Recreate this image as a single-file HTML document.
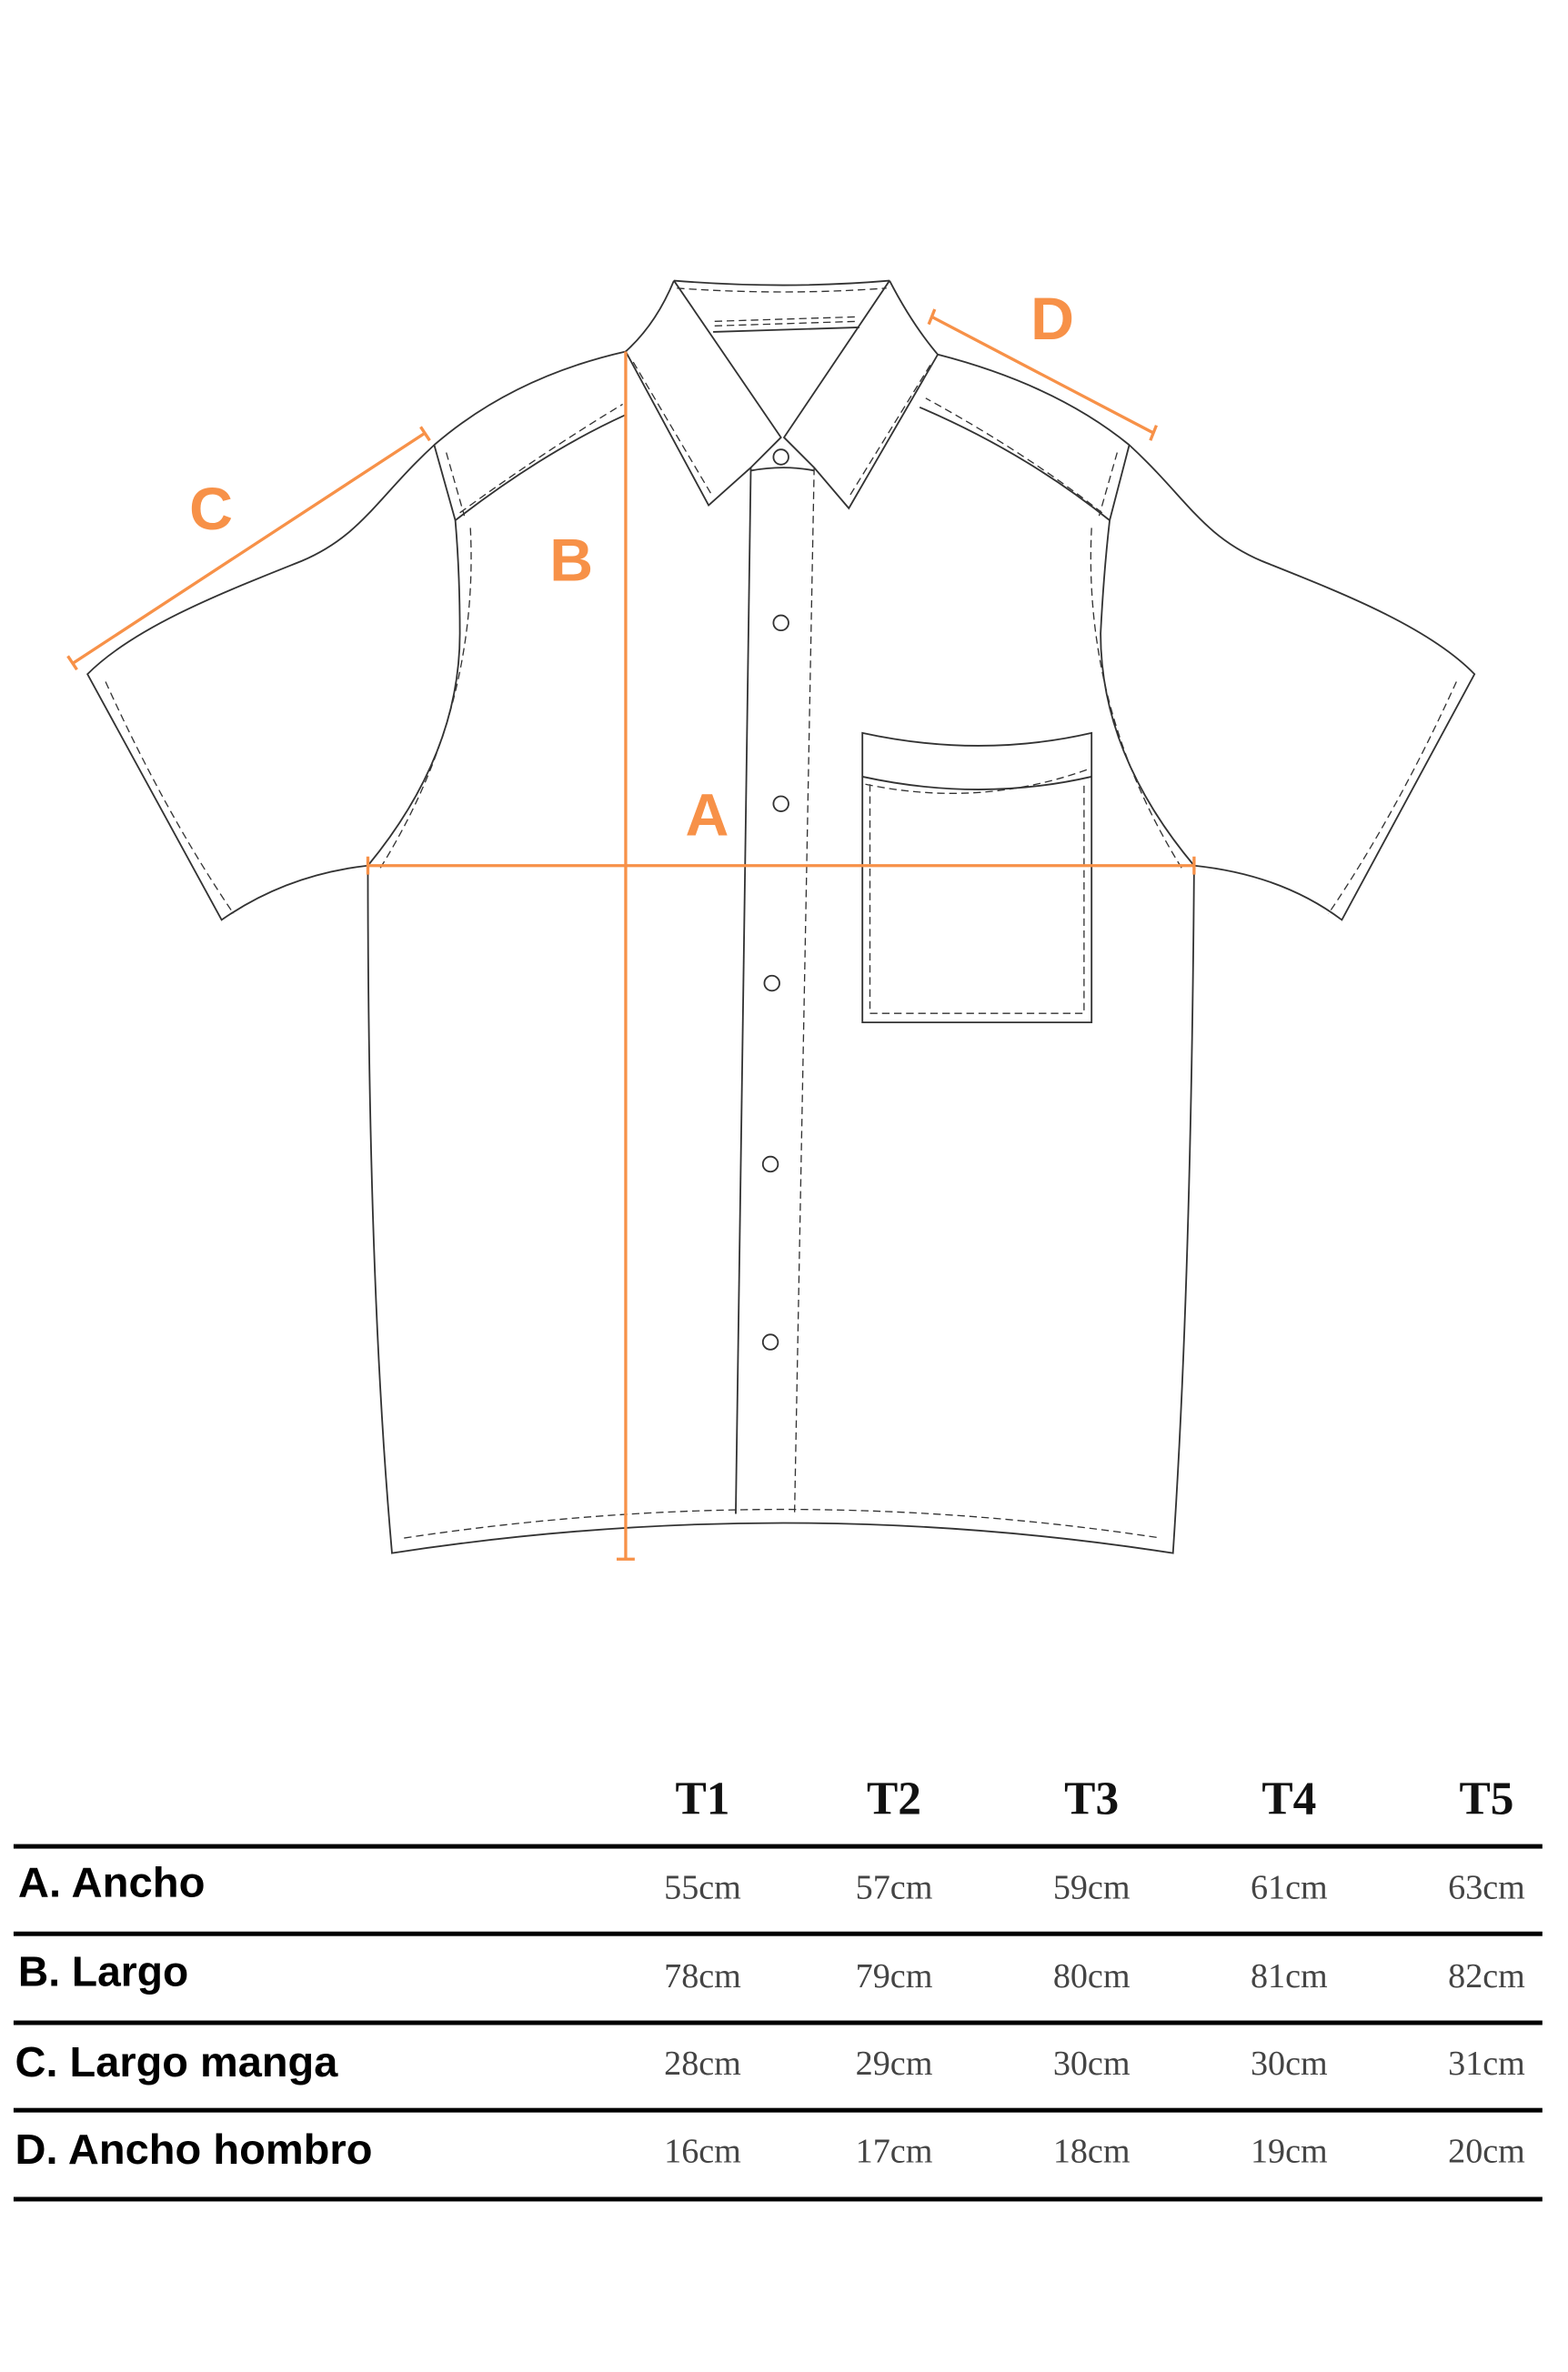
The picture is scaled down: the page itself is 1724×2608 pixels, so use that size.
<!DOCTYPE html>
<html><head><meta charset="utf-8"><style>html,body{margin:0;padding:0;background:#fff}svg{display:block}</style></head>
<body>
<svg width="1724" height="2608" viewBox="0 0 1040 1573" xmlns="http://www.w3.org/2000/svg">
<g fill="none" stroke="#333" stroke-width="1.1">
<path d="M447,186 Q520,192 590,186"/>
<path d="M449,191 Q520,196 588,191" stroke-dasharray="5,3" stroke-width="0.8"/>
<path d="M447,186 Q435,215 415,233 L470,335 L498,310 L518,290 L447,186"/>
<path d="M590,186 Q605,215 622,235 L563,337 L540,310 L520,290 L590,186"/>
<path d="M473,220 L570,217"/>
<path d="M474,213 L569,210 M474,216 L569,213" stroke-dasharray="5,3" stroke-width="0.8"/>
<path d="M420,240 L472,328 M617,242 L564,328" stroke-dasharray="5,3" stroke-width="0.8"/>
<path d="M415,233 Q340,250 288,295 C250,330 240,355 200,372 C150,392 90,415 58,447 L147,610 Q190,580 244,574 Q305,500 305,420 Q305,380 302,345 Q360,300 415,275"/>
<path d="M288,295 L302,345"/>
<path d="M296,300 L308,342 M305,340 Q360,300 413,268" stroke-dasharray="5,3" stroke-width="0.8"/>
<path d="M312,350 Q318,470 252,576 M70,452 Q110,540 155,606" stroke-dasharray="5,3" stroke-width="0.8"/>
<path d="M622,235 Q700,255 749,295 C787,330 797,355 837,372 C887,392 947,415 978,447 L890,610 Q850,580 792,574 Q730,500 730,420 Q732,380 736,345 Q680,300 610,270"/>
<path d="M749,295 L736,345"/>
<path d="M741,300 L729,342 M731,340 Q680,300 614,264" stroke-dasharray="5,3" stroke-width="0.8"/>
<path d="M724,350 Q718,470 784,576 M966,452 Q926,540 881,606" stroke-dasharray="5,3" stroke-width="0.8"/>
<path d="M244,574 Q244,850 260,1030 Q520,990 778,1030 Q790,850 792,574"/>
<path d="M268,1020 Q520,982 770,1020" stroke-dasharray="5,3" stroke-width="0.8"/>
<path d="M498,310 L488,1004"/>
<path d="M498,312 Q520,308 540,312"/>
<path d="M540,310 L527,1004" stroke-dasharray="5,3" stroke-width="0.8"/>
<circle cx="518" cy="303" r="5"/><circle cx="518" cy="413" r="5"/><circle cx="518" cy="533" r="5"/><circle cx="512" cy="652" r="5"/><circle cx="511" cy="772" r="5"/><circle cx="511" cy="890" r="5"/>
<path d="M572,486 Q650,503 724,486 L724,678 L572,678 Z"/>
<path d="M572,515 Q650,532 724,515"/>
<path d="M574,520 Q650,536 722,510 M577,520 L577,672 L719,672 L719,520" stroke-dasharray="5,3" stroke-width="0.8"/>
</g>
<g stroke="#F79148" stroke-width="2" fill="none">
<path d="M244,574 L792,574 M244,568 L244,580 M792,568 L792,580"/>
<path d="M415,233 L415,1034 M409,1034 L421,1034"/>
<path d="M48,440 L282,287 M45,435 L51,444 M279,283 L285,292"/>
<path d="M618,210 L765,287 M620,205 L616,215 M767,282 L763,292"/>
</g>
<g fill="#F79148" font-family="Liberation Sans, sans-serif" font-weight="bold" font-size="40" text-anchor="middle">
<text x="140" y="351">C</text><text x="379" y="385">B</text><text x="469" y="554">A</text><text x="698" y="225">D</text>
</g>
<g fill="#111" font-family="Liberation Serif, serif" font-weight="bold" font-size="31" text-anchor="middle">
<text x="466" y="1203">T1</text><text x="593" y="1203">T2</text><text x="724" y="1203">T3</text><text x="855" y="1203">T4</text><text x="986" y="1203">T5</text>
</g>
<g fill="#000">
<rect x="9" y="1223" width="1014" height="3"/><rect x="9" y="1281" width="1014" height="3"/><rect x="9" y="1340" width="1014" height="3"/><rect x="9" y="1398" width="1014" height="3"/><rect x="9" y="1457" width="1014" height="3"/>
</g>
<g fill="#000" font-family="Liberation Sans, sans-serif" font-weight="bold" font-size="28">
<text x="12" y="1258" textLength="124" lengthAdjust="spacingAndGlyphs">A. Ancho</text>
<text x="12" y="1317" textLength="113" lengthAdjust="spacingAndGlyphs">B. Largo</text>
<text x="10" y="1377" textLength="214" lengthAdjust="spacingAndGlyphs">C. Largo manga</text>
<text x="10" y="1435" textLength="237" lengthAdjust="spacingAndGlyphs">D. Ancho hombro</text>
</g>
<g fill="#444" font-family="Liberation Serif, serif" font-size="23" text-anchor="middle">
<text x="466" y="1259">55cm</text><text x="593" y="1259">57cm</text><text x="724" y="1259">59cm</text><text x="855" y="1259">61cm</text><text x="986" y="1259">63cm</text>
<text x="466" y="1318">78cm</text><text x="593" y="1318">79cm</text><text x="724" y="1318">80cm</text><text x="855" y="1318">81cm</text><text x="986" y="1318">82cm</text>
<text x="466" y="1376">28cm</text><text x="593" y="1376">29cm</text><text x="724" y="1376">30cm</text><text x="855" y="1376">30cm</text><text x="986" y="1376">31cm</text>
<text x="466" y="1434">16cm</text><text x="593" y="1434">17cm</text><text x="724" y="1434">18cm</text><text x="855" y="1434">19cm</text><text x="986" y="1434">20cm</text>
</g>
</svg>
</body></html>
